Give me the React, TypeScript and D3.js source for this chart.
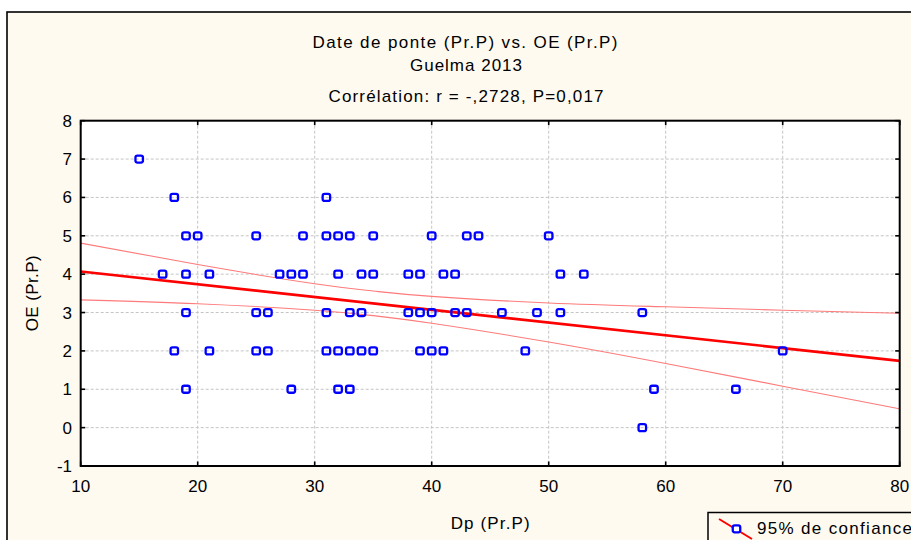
import React from "react";
import * as d3 from "d3";

// ---- Data ----
const titleLines = ["Date de ponte (Pr.P) vs. OE (Pr.P)", "Guelma 2013", "Corrélation: r = -,2728, P=0,017"];
const xLabel = "Dp (Pr.P)";
const yLabel = "OE (Pr.P)";
const legendLabel = "95% de confiance";

const xTicks = [10, 20, 30, 40, 50, 60, 70, 80];
const yTicks = [-1, 0, 1, 2, 3, 4, 5, 6, 7, 8];

// Observations (Dp, OE)
const dpValues = [
  15,
  18, 31,
  19, 20, 25, 29, 31, 32, 33, 35, 40, 43, 44, 50,
  17, 19, 21, 27, 28, 29, 32, 34, 35, 38, 39, 41, 42, 51, 53,
  19, 25, 26, 31, 33, 34, 38, 39, 40, 42, 43, 46, 49, 51, 58,
  18, 21, 25, 26, 31, 32, 33, 34, 35, 39, 40, 41, 48, 70,
  19, 28, 32, 33, 59, 66,
  58,
];
const oeValues = [
  7,
  6, 6,
  5, 5, 5, 5, 5, 5, 5, 5, 5, 5, 5, 5,
  4, 4, 4, 4, 4, 4, 4, 4, 4, 4, 4, 4, 4, 4, 4,
  3, 3, 3, 3, 3, 3, 3, 3, 3, 3, 3, 3, 3, 3, 3,
  2, 2, 2, 2, 2, 2, 2, 2, 2, 2, 2, 2, 2, 2,
  1, 1, 1, 1, 1, 1,
  0,
];

// Regression line (read endpoints)
const regX = [10, 80];
const regY = [4.07, 1.74];

// 95% confidence band (read values)
const bandX = [10, 20, 30, 35, 40, 50, 60, 70, 80];
const bandUpper = [4.81, 4.25, 3.75, 3.56, 3.42, 3.25, 3.15, 3.06, 2.98];
const bandLower = [3.33, 3.23, 3.06, 2.92, 2.72, 2.23, 1.67, 1.08, 0.49];

const FONT = "'Liberation Sans', Arial, sans-serif";

export default function App() {
  const W = 911;
  const H = 540;
  const left = 80.7, right = 899.7, top = 120.7, bottom = 466;
  const x = d3.scaleLinear().domain([10, 80]).range([left, right]);
  const y = d3.scaleLinear().domain([-1, 8]).range([bottom, top]);

  const lineGen = d3
    .line<[number, number]>()
    .x((d) => x(d[0]))
    .y((d) => y(d[1]));
  const curveGen = d3
    .line<[number, number]>()
    .x((d) => x(d[0]))
    .y((d) => y(d[1]))
    .curve(d3.curveNatural);

  const regPts: [number, number][] = regX.map((v, i) => [v, regY[i]]);
  const upPts: [number, number][] = bandX.map((v, i) => [v, bandUpper[i]]);
  const loPts: [number, number][] = bandX.map((v, i) => [v, bandLower[i]]);

  const tick = 4.5;
  const mw = 7.5; // marker width
  const mh = 7;

  return (
    <div style={{ position: "absolute", left: 0, top: 0, width: W, height: H, overflow: "hidden" }}>
      <svg width={W} height={H} style={{ display: "block", fontFamily: FONT }}>
        <rect x={0} y={0} width={W} height={H} fill="#ffffff" />
        {/* outer frame */}
        <rect x={7} y={12} width={W + 20} height={H + 20} fill="#fefaf0" stroke="#000" strokeWidth={1.6} />

        {/* titles */}
        <g fill="#000" fontSize={17} textAnchor="middle">
          <text x={465} y={48} textLength={305} lengthAdjust="spacing">{titleLines[0]}</text>
          <text x={466} y={71} textLength={112} lengthAdjust="spacing">{titleLines[1]}</text>
          <text x={466} y={102} textLength={275} lengthAdjust="spacing">{titleLines[2]}</text>
        </g>

        {/* plot area */}
        <rect x={left} y={top} width={right - left} height={bottom - top} fill="#ffffff" />
        <clipPath id="plotclip">
          <rect x={left} y={top} width={right - left} height={bottom - top} />
        </clipPath>

        {/* grid */}
        <g stroke="#c4c4c4" strokeWidth={1} strokeDasharray="3,2">
          {xTicks.slice(1, -1).map((t) => (
            <line key={"gx" + t} x1={x(t)} x2={x(t)} y1={top} y2={bottom} />
          ))}
          {yTicks.slice(1, -1).map((t) => (
            <line key={"gy" + t} x1={left} x2={right} y1={y(t)} y2={y(t)} />
          ))}
        </g>

        {/* confidence band and regression */}
        <g clipPath="url(#plotclip)" fill="none">
          <path d={curveGen(upPts) || ""} stroke="#ff7a7a" strokeWidth={1.1} />
          <path d={curveGen(loPts) || ""} stroke="#ff7a7a" strokeWidth={1.1} />
          <path d={lineGen(regPts) || ""} stroke="#ff0000" strokeWidth={2.6} />
        </g>

        {/* points */}
        <g fill="none" stroke="#0000ff" strokeWidth={2.3}>
          {dpValues.map((dv, i) => (
            <rect
              key={"p" + i}
              x={x(dv) - mw / 2}
              y={y(oeValues[i]) - mh / 2}
              width={mw}
              height={mh}
              rx={2}
            />
          ))}
        </g>

        {/* ticks (inward on all sides) */}
        <g stroke="#000" strokeWidth={1.6}>
          {xTicks.map((t) => (
            <g key={"tx" + t}>
              <line x1={x(t)} x2={x(t)} y1={bottom} y2={bottom - tick} />
              <line x1={x(t)} x2={x(t)} y1={top} y2={top + tick} />
            </g>
          ))}
          {yTicks.map((t) => (
            <g key={"ty" + t}>
              <line x1={left} x2={left + tick} y1={y(t)} y2={y(t)} />
              <line x1={right} x2={right - tick} y1={y(t)} y2={y(t)} />
            </g>
          ))}
        </g>

        {/* plot border */}
        <rect x={left} y={top} width={right - left} height={bottom - top} fill="none" stroke="#000" strokeWidth={2} />

        {/* tick labels */}
        <g fill="#000" fontSize={17}>
          {xTicks.map((t) => (
            <text key={"lx" + t} x={x(t)} y={bottom + 26} textAnchor="middle">
              {t}
            </text>
          ))}
          {yTicks.map((t) => (
            <text key={"ly" + t} x={72} y={y(t) + 6} textAnchor="end">
              {t}
            </text>
          ))}
        </g>

        {/* axis titles */}
        <text x={(left + right) / 2} y={529} fontSize={17} textAnchor="middle" fill="#000" textLength={79} lengthAdjust="spacing">
          {xLabel}
        </text>
        <text
          transform={`translate(38, ${(top + bottom) / 2}) rotate(-90)`}
          fontSize={17}
          textAnchor="middle"
          fill="#000"
          textLength={76}
          lengthAdjust="spacing"
        >
          {yLabel}
        </text>

        {/* legend */}
        <rect x={708} y={512.5} width={240} height={60} fill="#fefaf0" stroke="#000" strokeWidth={1.5} />
        <line x1={719} y1={519} x2={752} y2={539} stroke="#ff0000" strokeWidth={2} />
        <rect x={736.5 - 3.75} y={528.8 - 3.5} width={7.5} height={7} rx={2} fill="#ffffff" stroke="#0000ff" strokeWidth={2.3} />
        <text x={757} y={534} fontSize={17} fill="#000" textLength={155} lengthAdjust="spacing">
          {legendLabel}
        </text>
      </svg>
    </div>
  );
}
